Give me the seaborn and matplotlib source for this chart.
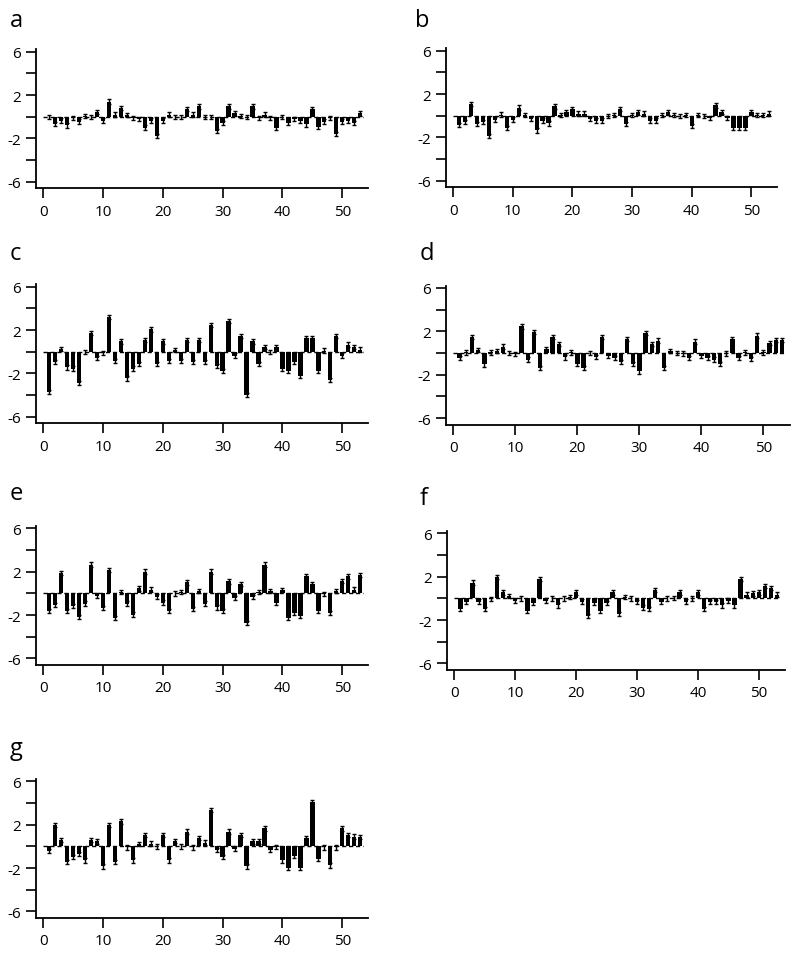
import numpy as np
import pandas as pd
import matplotlib
matplotlib.use('Agg')
import matplotlib.pyplot as plt
import seaborn as sns

# position index of each bar (same for every panel)
positions = list(range(1, 54))

# bar heights
panel_a = [0, -0.65, -0.35, -0.8, -0.1, -0.45, 0.05, 0, 0.45, -0.35,
           1.4, 0.2, 0.8, 0.15, -0.1, -0.2, -1.0, -0.35, -1.75, -0.35,
           0.2, 0, 0, 0.7, 0.2, 0.95, 0, 0, -1.3, -0.6,
           0.95, 0.3, 0.05, 0, 0.95, -0.1, 0.2, -0.1, -1.0, 0,
           -0.55, -0.2, -0.35, -0.7, 0.7, -0.9, -0.45, -0.1, -1.6, -0.45,
           -0.35, -0.55, 0.3]
panel_b = [-0.85, -0.6, 1.05, -0.75, -0.6, -1.85, -0.35, 0.1, -1.15, -0.35,
           0.75, 0.05, -0.3, -1.35, -0.45, -0.7, 0.85, 0.05, 0.3, 0.6,
           0.2, 0.2, -0.3, -0.45, -0.45, -0.05, 0.05, 0.6, -0.75, 0.05,
           0.3, 0.2, -0.45, -0.45, 0.05, 0.3, 0.05, -0.05, 0.05, -0.95,
           0.05, 0, -0.2, 0.95, 0.35, -0.2, -1.15, -1.15, -1.15, 0.3,
           0.05, 0.05, 0.2]
panel_c = [-3.7, -0.95, 0.25, -1.45, -1.55, -2.85, 0, 1.75, -0.55, -0.1,
           3.2, -0.85, 0.95, -2.45, -1.55, -1.15, 1.1, 2.05, -1.15, 0.95,
           -0.85, 0.15, -0.85, 1.1, -0.95, 1.1, -0.95, 2.45, -1.3, -1.75,
           2.85, -0.35, 1.45, -4.0, 0.95, -1.15, 0.45, 0, 0.45, -1.55,
           -1.75, -0.95, -2.25, 1.25, 1.25, -1.75, 0.1, -2.6, 1.45, -0.35,
           0.65, 0.45, 0.2]
panel_d = [-0.45, 0.05, 1.5, 0.25, -1.05, 0.05, 0.2, 0.6, 0, -0.1,
           2.45, -0.6, 1.95, -1.35, 0.35, 1.45, 0.85, -0.4, 0.05, -1.0,
           -1.35, 0, -0.35, 1.5, -0.25, -0.45, -0.85, 1.3, -1.0, -1.7,
           1.85, 0.85, 1.15, -1.35, 0.2, 0, -0.05, -0.45, 1.05, -0.25,
           -0.45, -0.6, -1.0, -0.05, 1.3, -0.45, 0.05, -0.55, 1.6, 0.05,
           0.9, 1.2, 1.2]
panel_e = [-1.65, -1.05, 1.85, -1.6, -1.15, -2.15, -0.95, 2.65, -0.2, -1.35,
           2.15, -2.3, 0.1, -0.95, -1.95, 0.45, 2.0, 0.35, -0.3, -0.85,
           -1.65, 0, 0.1, 1.0, -1.45, 0.2, -0.95, 2.0, -1.3, -1.65,
           1.1, -0.45, 0.85, -2.75, -0.35, 0.15, 2.65, 0.2, -0.85, 0.3,
           -2.25, -1.8, -2.1, 1.55, 0.85, -1.6, -0.05, -1.8, 0.2, 1.15,
           1.55, 0.35, 1.7]
panel_f = [-1.0, -0.35, 1.45, -0.3, -1.0, -0.05, 1.95, 0.55, 0.2, -0.2,
           0, -1.15, -0.45, 1.75, -0.2, 0, -0.65, 0, 0.1, 0.55,
           -0.3, -1.6, -0.45, -1.15, -0.45, 0.55, -1.45, 0.1, 0, -0.35,
           -0.85, -1.0, 0.75, -0.3, 0, 0.05, 0.55, -0.3, 0, 0.55,
           -1.0, -0.35, -0.35, -0.65, -0.2, -0.65, 1.75, 0.35, 0.45, 0.55,
           1.15, 0.95, 0.35]
panel_g = [-0.4, 1.95, 0.6, -1.45, -1.0, -0.7, -1.3, 0.6, 0.45, -1.85,
           1.95, -1.45, 2.3, -0.1, -1.3, 0.2, 1.05, 0.25, 0, 1.05,
           -1.3, 0.5, 0, 1.35, -0.1, 0.75, 0.35, 3.35, -0.35, -1.0,
           1.35, -0.2, 1.05, -1.85, 0.45, 0.45, 1.65, -0.35, -0.05, -1.3,
           -1.95, -0.85, -1.95, 0.75, 4.1, -1.15, -0.1, -1.75, -0.1, 1.65,
           1.05, 0.9, 0.85]

err = 0.2  # whisker half-length, roughly the same on every bar

panel_names = ['a', 'b', 'c', 'd', 'e', 'f', 'g']
panel_values = [panel_a, panel_b, panel_c, panel_d, panel_e, panel_f, panel_g]

# axes boxes in pixels: left, top, width, height (figure is 800 x 954)
boxes = [(36, 50.4, 332, 139), (446, 49.4, 331, 139),
         (36, 285.4, 332, 139), (446, 286.7, 344, 139),
         (36, 527.0, 332, 139), (447, 532.0, 338, 139),
         (36, 780.0, 332, 139)]
label_xy = [(10, 27), (415, 27), (10, 260), (420, 260),
            (10, 500), (420, 505), (10, 755)]

sns.set_style("ticks")
plt.rcParams['font.family'] = ['Open Sans', 'DejaVu Sans']

W, H = 800, 954
fig = plt.figure(figsize=(W / 100, H / 100), dpi=100)

for name, vals, (l, t, w, h), (lx, ly) in zip(panel_names, panel_values, boxes, label_xy):
    ax = fig.add_axes([l / W, (H - t - h) / H, w / W, h / H])
    df = pd.DataFrame({'pos': positions, 'value': vals})
    ax.hlines(0, 0, 53.5, colors='black', linestyles=(0, (3, 2)), linewidth=1)
    sns.barplot(data=df, x='pos', y='value', native_scale=True, color='black',
                width=0.72, linewidth=0, saturation=1, errorbar=None, ax=ax)
    ax.errorbar(df['pos'], df['value'], yerr=err, fmt='none', ecolor='black',
                elinewidth=1, capsize=1.3, capthick=1)

    ax.set_xlim(-1.2, 54.3)
    ax.set_ylim(-6.6, 6.2)
    ax.set_xticks([0, 10, 20, 30, 40, 50])
    ax.set_yticks([-6, -4, -2, 0, 2, 4, 6])
    ax.set_yticklabels(['-6', '', '-2', '', '2', '', '6'])
    ax.set_xlabel('')
    ax.set_ylabel('')
    ax.tick_params(axis='both', direction='out', length=7, width=1.2,
                   labelsize=11, colors='black', labelcolor='black', pad=4)
    sns.despine(ax=ax)
    for s in ('left', 'bottom'):
        ax.spines[s].set_linewidth(1.3)
        ax.spines[s].set_color('black')

    fig.text(lx / W, 1 - ly / H, name, fontsize=17, color='black',
             va='baseline', ha='left')

fig.savefig('out.png', dpi=100)
